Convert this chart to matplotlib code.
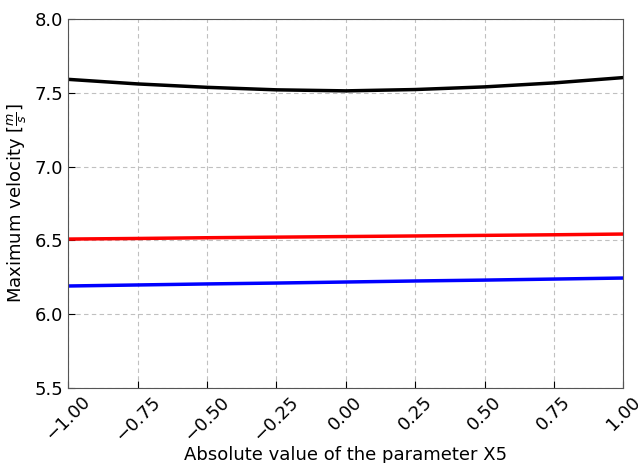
import numpy as np
import matplotlib.pyplot as plt

# parameter X5 and the max velocity of each case
x5 = [-1.0, -0.75, -0.5, -0.25, 0.0, 0.25, 0.5, 0.75, 1.0]
v_black = [7.591, 7.560, 7.537, 7.520, 7.513, 7.522, 7.540, 7.567, 7.603]
v_red = [6.509, 6.513, 6.518, 6.522, 6.526, 6.530, 6.534, 6.538, 6.543]
v_blue = [6.191, 6.198, 6.205, 6.211, 6.218, 6.225, 6.231, 6.238, 6.245]

fig = plt.figure(figsize=(6.38, 4.63), dpi=100)
ax = fig.add_axes([0.107, 0.162, 0.870, 0.797])

ax.plot(x5, v_black, color='black', lw=2.5)
ax.plot(x5, v_red, color='red', lw=2.5)
ax.plot(x5, v_blue, color='blue', lw=2.5)

ax.set_xlim(-1, 1)
ax.set_ylim(5.5, 8.0)
ax.set_xticks(np.arange(-1, 1.01, 0.25))
ax.set_yticks(np.arange(5.5, 8.01, 0.5))
ax.grid(True, color='#c0c0c0', linestyle=(0, (4, 3)), linewidth=0.8)
ax.tick_params(direction='in', labelsize=13, length=5)
plt.setp(ax.get_xticklabels(), rotation=45, ha='center')
for s in ax.spines.values():
    s.set_color('#555555')

ax.set_xlabel("Absolute value of the parameter X5", fontsize=13, labelpad=1)
ax.set_ylabel(r"Maximum velocity [$\frac{m}{s}$]", fontsize=13, labelpad=4)

fig.savefig("out.png")
